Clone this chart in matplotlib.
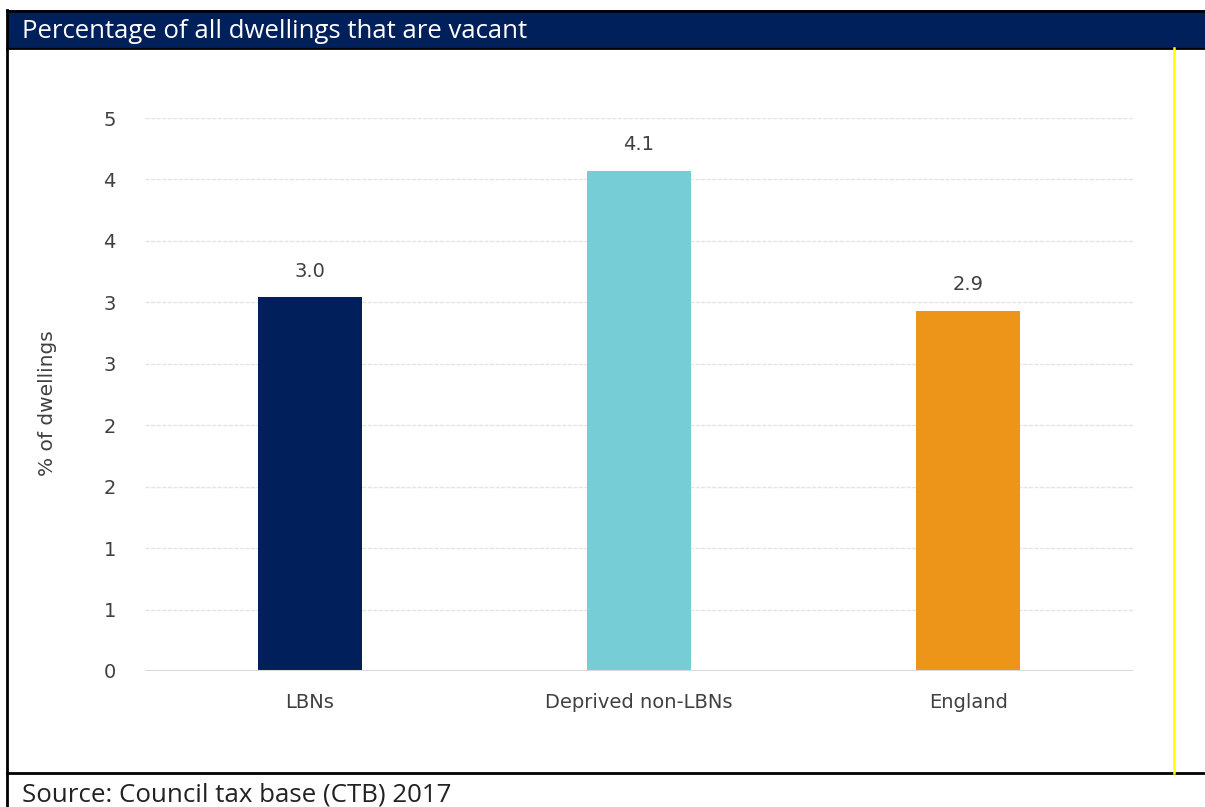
import matplotlib.pyplot as plt
from matplotlib.patches import Rectangle
from matplotlib.lines import Line2D

# data
categories = ['LBNs', 'Deprived non-LBNs', 'England']
vacant_pct = [3.04, 4.07, 2.93]
bar_colors = ['#001f5b', '#77cdd6', '#ec9519']
ytick_values = [0, 0.5, 1.0, 1.5, 2.0, 2.5, 3.0, 3.5, 4.0, 4.5]
ytick_labels = ['0', '1', '1', '2', '2', '3', '3', '4', '4', '5']

title = 'Percentage of all dwellings that are vacant'
source = 'Source: Council tax base (CTB) 2017'

W, H = 1205, 807
fig = plt.figure(figsize=(W / 100, H / 100), dpi=100)


# helpers to place things in pixel coordinates (origin top left)
def fx(x):
    return x / W


def fy(y):
    return 1 - y / H


# header band and frame
fig.add_artist(Rectangle((fx(7), fy(47)), fx(W) - fx(7), fy(10) - fy(47),
                         transform=fig.transFigure, facecolor='#00205b',
                         edgecolor='none', zorder=0))
fig.add_artist(Line2D([fx(7), fx(W)], [fy(10.5), fy(10.5)], transform=fig.transFigure,
                      color='black', lw=2))
fig.add_artist(Line2D([fx(7), fx(W)], [fy(47.5), fy(47.5)], transform=fig.transFigure,
                      color='black', lw=2))
fig.add_artist(Line2D([fx(7), fx(W)], [fy(773), fy(773)], transform=fig.transFigure,
                      color='black', lw=2))
fig.add_artist(Line2D([fx(7.5), fx(7.5)], [fy(10), fy(H)], transform=fig.transFigure,
                      color='black', lw=2))
fig.add_artist(Line2D([fx(1174), fx(1174)], [fy(48), fy(773)], transform=fig.transFigure,
                      color='#ffff00', lw=1.8))

fig.text(fx(22), fy(31), title, color='white', fontsize=18.5, family='Open Sans',
         va='center', ha='left')
fig.text(fx(22), fy(795), source, color='#222222', fontsize=18.6, family='Open Sans',
         va='center', ha='left')

# chart area
ax = fig.add_axes([fx(145), fy(671), fx(1133) - fx(145), fy(118) - fy(671)])
x = range(len(categories))
bars = ax.bar(x, vacant_pct, width=0.316, color=bar_colors, zorder=3)

for rect, val in zip(bars, vacant_pct):
    ax.annotate(f'{val:.1f}', (rect.get_x() + rect.get_width() / 2, rect.get_height()),
                xytext=(0, 12), textcoords='offset points', ha='center', va='bottom',
                fontsize=14, color='#404040', family='DejaVu Sans')

ax.set_xlim(-0.5, 2.5)
ax.set_ylim(0, 4.5)
ax.set_yticks(ytick_values)
ax.set_yticklabels(ytick_labels)
ax.set_xticks(list(x))
ax.set_xticklabels(categories)
ax.tick_params(axis='both', length=0, labelsize=14, labelcolor='#404040')
ax.tick_params(axis='y', pad=21)
ax.tick_params(axis='x', pad=16)
for lab in ax.get_xticklabels() + ax.get_yticklabels():
    lab.set_family('DejaVu Sans')

ax.grid(axis='y', color='#e4e4e4', lw=1, linestyle=(0, (3, 1)), zorder=0)
ax.axhline(0, color='#d9d9d9', lw=1.5, zorder=4)
for side in ['top', 'right', 'left', 'bottom']:
    ax.spines[side].set_visible(False)

fig.text(fx(48), fy(403), '% of dwellings', rotation=90, ha='center', va='center',
         fontsize=14.5, color='#404040', family='DejaVu Sans')

fig.savefig('out.png', dpi=100)
